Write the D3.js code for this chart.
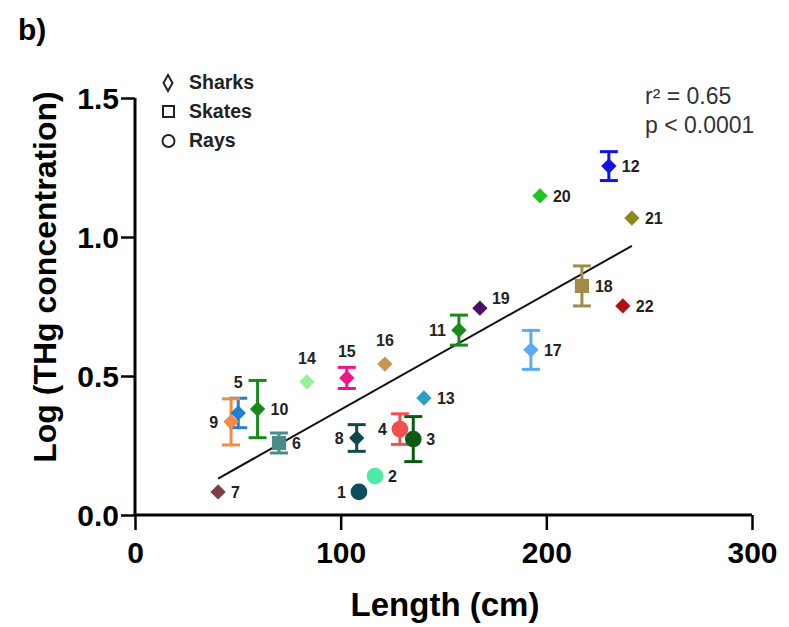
<!DOCTYPE html>
<html><head><meta charset="utf-8">
<script src="https://cdn.jsdelivr.net/npm/d3@7"></script>
<style>
body{margin:0;background:#fff;}
text{font-family:"Liberation Sans",Arial,sans-serif;}
</style></head>
<body><div id="chart"></div>
<script>
// ---- data ----
const ids      = [1,2,3,4,5,6,7,8,9,10,11,12,13,14,15,16,17,18,19,20,21,22];
const groups   = ['Rays','Rays','Rays','Rays','Sharks','Skates','Sharks','Sharks','Sharks','Sharks','Sharks','Sharks','Sharks','Sharks','Sharks','Sharks','Sharks','Skates','Sharks','Sharks','Sharks','Sharks'];
const lengths  = [108.9,116.7,135.3,128.8,50.2,70.0,40.4,107.8,46.7,59.6,157.5,230.4,140.5,83.6,103.0,121.5,192.5,217.3,167.7,196.9,241.6,237.2];
const logTHg   = [0.083,0.140,0.273,0.309,0.367,0.259,0.083,0.277,0.335,0.381,0.665,1.255,0.421,0.479,0.493,0.543,0.594,0.824,0.744,1.148,1.068,0.752];
const errors   = [0,0,0.081,0.055,0.053,0.036,0,0.048,0.083,0.103,0.054,0.052,0,0,0.038,0,0.070,0.072,0,0,0,0];
const colors   = ['#0e4d5c','#4deaa8','#0b5a14','#f2504c','#1f80d0','#4b8c8a','#7b3f45','#0f4a48','#f58a42','#178a1a','#178a1a','#1212e8','#2aa0c0','#98f098','#f0148c','#c89650','#5aaaf5','#a08c48','#4b0f60','#22c422','#8c8a1a','#b01212'];
const xTicks   = [0,100,200,300];
const yTicks   = [0.0,0.5,1.0,1.5];
const fitSlope = 0.00416, fitIntercept = -0.037, fitRange = [40.4,241.6];
const legendItems = ['Sharks','Skates','Rays'];
const stats = ['r\u00b2 = 0.65','p < 0.0001'];

// label placement (layout only)
const labelSide = {1:'l',2:'r',3:'r',4:'l',5:'t',6:'r',7:'r',8:'l',9:'l',10:'r',11:'l',12:'r',13:'r',14:'t',15:'t',16:'t',17:'r',18:'r',19:'tr',20:'r',21:'r',22:'r'};

const W=789,H=627;
const svg=d3.select('#chart').append('svg').attr('width',W).attr('height',H);
const x=d3.scaleLinear().domain([0,300]).range([135,752]);
const y=d3.scaleLinear().domain([0,1.5]).range([515,98]);

// title
svg.append('text').attr('x',18).attr('y',40).attr('font-size',30).attr('font-weight','bold').text('b)');

// axes
const xAxis=d3.axisBottom(x).tickValues(xTicks).tickSize(15).tickFormat(d3.format('d'));
const gx=svg.append('g').attr('transform','translate(0,515)');
gx.call(d3.axisBottom(x).tickValues(d3.range(0,301,10).filter(v=>v%100)).tickSize(8).tickFormat(''));
gx.call(xAxis);
gx.selectAll('path.domain').attr('stroke-width',3).attr('d','M135,0H752');
gx.selectAll('.tick line').attr('stroke','#000').attr('stroke-width',2.5);
gx.selectAll('.tick text').attr('font-size',30).attr('font-weight','bold').attr('font-family','Liberation Sans, Arial, sans-serif').attr('dy','1.0em').attr('fill','#000');

const gy=svg.append('g').attr('transform','translate(135,0)');
gy.call(d3.axisLeft(y).tickValues(yTicks).tickSize(14).tickFormat(d3.format('.1f')));
gy.selectAll('path.domain').attr('stroke-width',3).attr('d','M0,98V515');
gy.selectAll('.tick line').attr('stroke','#000').attr('stroke-width',2.5);
gy.selectAll('.tick text').attr('font-size',30).attr('font-weight','bold').attr('font-family','Liberation Sans, Arial, sans-serif').attr('x',-16).attr('dy','0.35em').attr('fill','#000');

// axis titles
svg.append('text').attr('x',445).attr('y',616).attr('text-anchor','middle').attr('font-size',33).attr('font-weight','bold').text('Length (cm)');
svg.append('text').attr('transform','translate(56,277) rotate(-90)').attr('text-anchor','middle').attr('font-size',32).attr('font-weight','bold').text('Log (THg concentration)');

// regression line
svg.append('line')
  .attr('x1',x(fitRange[0])).attr('y1',y(fitIntercept+fitSlope*fitRange[0]))
  .attr('x2',x(fitRange[1])).attr('y2',y(fitIntercept+fitSlope*fitRange[1]))
  .attr('stroke','#111').attr('stroke-width',2);

const data=ids.map((id,i)=>({id,g:groups[i],x:lengths[i],y:logTHg[i],e:errors[i],c:colors[i]}));

// error bars
const eb=svg.append('g');
data.filter(d=>d.e>0).forEach(d=>{
  const cx=x(d.x);
  eb.append('line').attr('x1',cx).attr('x2',cx).attr('y1',y(d.y-d.e)).attr('y2',y(d.y+d.e)).attr('stroke',d.c).attr('stroke-width',3);
  [d.y-d.e,d.y+d.e].forEach(v=>eb.append('line').attr('x1',cx-9).attr('x2',cx+9).attr('y1',y(v)).attr('y2',y(v)).attr('stroke',d.c).attr('stroke-width',3));
});

const diamondType = d3.symbolDiamond2 || d3.symbolDiamond;
function symPath(g){
  if(g==='Sharks') return d3.symbol().type(diamondType).size(150)();
  if(g==='Skates') return d3.symbol().type(d3.symbolSquare).size(200)();
  return d3.symbol().type(d3.symbolCircle).size(220)();
}
svg.append('g').selectAll('path').data(data).join('path')
  .attr('transform',d=>`translate(${x(d.x)},${y(d.y)})`)
  .attr('d',d=>symPath(d.g)).attr('fill',d=>d.c);

// labels
svg.append('g').selectAll('text').data(data).join('text')
  .attr('font-size',16).attr('font-weight','bold').attr('fill','#222')
  .each(function(d){
    const s=labelSide[d.id], cx=x(d.x), cy=y(d.y), t=d3.select(this);
    let tx=cx,ty=cy+6,anc='start';
    if(s==='r'){tx=cx+13;}
    else if(s==='l'){tx=cx-13;anc='end';}
    else if(s==='t'){anc='middle';ty=(d.e>0?y(d.y+d.e):cy-8)-10;}
    else if(s==='tr'){tx=cx+12;ty=cy-4;}
    t.attr('x',tx).attr('y',ty).attr('text-anchor',anc).text(d.id);
  });

// legend
const lg=svg.append('g');
legendItems.forEach((name,i)=>{
  const ly=83+i*29;
  let p;
  if(name==='Sharks') p=`M168,${ly-8}L172.5,${ly}L168,${ly+8}L163.5,${ly}Z`;
  else if(name==='Skates') p=`M163,${ly-6}h11v11h-11Z`;
  else p=null;
  if(p) lg.append('path').attr('d',p).attr('fill','none').attr('stroke','#222').attr('stroke-width',2);
  else lg.append('circle').attr('cx',168.5).attr('cy',ly).attr('r',6).attr('fill','none').attr('stroke','#222').attr('stroke-width',2);
  lg.append('text').attr('x',189).attr('y',ly+6).attr('font-size',19.5).attr('font-weight','bold').attr('fill','#222').text(name);
});

// stats
stats.forEach((s,i)=>{
  svg.append('text').attr('x',645).attr('y',104+i*29).attr('font-size',23).attr('fill','#333').text(s);
});
</script></body></html>
